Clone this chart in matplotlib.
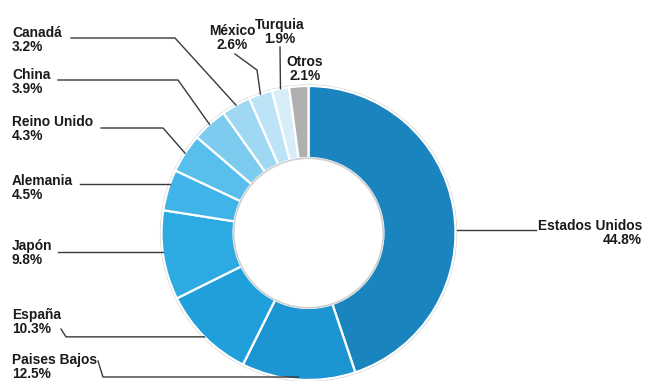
import numpy as np
import matplotlib
matplotlib.use("Agg")
import matplotlib.pyplot as plt
from matplotlib.patches import Circle

# Share of exports by destination (%), clockwise from 12 o'clock
countries = ["Estados Unidos", "Paises Bajos", "España", "Japón", "Alemania",
             "Reino Unido", "China", "Canadá", "México", "Turquia", "Otros"]
shares = [44.8, 12.5, 10.3, 9.8, 4.5, 4.3, 3.9, 3.2, 2.6, 1.9, 2.1]
colors = ["#1A84BE", "#1C95D2", "#20A0DB", "#2EAAE2", "#40B4E8", "#58BFEC",
          "#7DCCF0", "#9ED8F3", "#BDE3F6", "#D7EEF9", "#AFAFAF"]

W, H = 645, 381
fig = plt.figure(figsize=(W / 100, H / 100), dpi=100)
ax = fig.add_axes([0, 0, 1, 1])

cx, cy, R = 308.5, 233.0, 147.0
ring = 0.49

# faint shadow on the outer rim
ax.add_patch(Circle((cx, cy), R + 1.6, facecolor="#c9c9c9", edgecolor="none", zorder=0))

# y axis is inverted, so draw with counterclock=True to run clockwise on screen
wedges, _ = ax.pie(shares, colors=colors, startangle=-90, counterclock=True,
                   center=(cx, cy), radius=R, frame=True,
                   wedgeprops=dict(width=R * ring, edgecolor="white", linewidth=1.6))
ax.set_xlim(0, W)
ax.set_ylim(H, 0)
ax.set_aspect("equal")
ax.axis("off")

# white hole with a soft grey inner rim
ax.add_patch(Circle((cx, cy), R * (1 - ring) - 0.2, facecolor="white",
                    edgecolor="#cfcfcf", linewidth=1.2, zorder=3))


def mid_point(w):
    th = np.deg2rad((w.theta1 + w.theta2) / 2)
    return cx + R * np.cos(th), cy + R * np.sin(th)


def ring_x_at(y, side):
    dx = np.sqrt(max(R ** 2 - (y - cy) ** 2, 0))
    return cx + side * dx


font = dict(family="Liberation Sans", fontweight="bold", fontsize=9.9, color="#1a1a1a",
            linespacing=1.0)
lc = dict(color="#3a3a3a", linewidth=1.0, zorder=4)

# label layout: (text x, text y, ha, leader style, leader points)
layout = {
    "Canadá":        (12, 40, "left", "elbow", [(71, 38), (175, 38)]),
    "China":         (12, 82, "left", "elbow", [(58, 80), (178, 80)]),
    "Reino Unido":   (12, 129, "left", "elbow", [(101, 128), (163, 128)]),
    "Alemania":      (12, 188, "left", "hline", [(80, 184)]),
    "Japón":         (12, 253, "left", "hline", [(58, 252)]),
    "España":        (12, 322, "left", "tail", [(61, 329), (66, 337)]),
    "Paises Bajos":  (12, 367, "left", "tail", [(98, 361), (103, 377)]),
    "México":        (232, 38, "center", "elbow", [(235, 54), (257, 70)]),
    "Turquia":       (280, 32, "center", "elbow", [(280, 47)]),
    "Otros":         (305, 69, "center", "none", []),
    "Estados Unidos": (642, 233, "right", "hline_r", [(536, 230)]),
}

for w, name, val in zip(wedges, countries, shares):
    tx, ty, ha, style, pts = layout[name]
    ax.text(tx, ty, f"{name}\n{val}%", ha=ha, va="center", **font)
    if style == "none":
        continue
    ax_, ay_ = mid_point(w)
    if style == "elbow":
        xs = [p[0] for p in pts] + [ax_]
        ys = [p[1] for p in pts] + [ay_]
    elif style == "hline":
        x0, y0 = pts[0]
        xs, ys = [x0, ring_x_at(y0, -1)], [y0, y0]
    elif style == "hline_r":
        x0, y0 = pts[0]
        xs, ys = [x0, ring_x_at(y0, 1) + 2], [y0, y0]
    else:  # tail: short slant, then horizontal to the wedge
        yl = min(pts[-1][1], ay_)
        xs = [pts[0][0], pts[1][0], ax_]
        ys = [pts[0][1], yl, yl]
    ax.plot(xs, ys, **lc)

fig.savefig("out.png", dpi=100, facecolor="white")
